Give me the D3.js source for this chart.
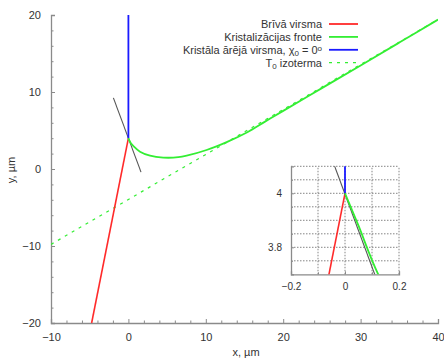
<!DOCTYPE html>
<html>
<head>
<meta charset="utf-8">
<script src="https://cdn.jsdelivr.net/npm/d3@7"></script>
<style>
  body { margin: 0; background: #fff; }
  text { font-family: "Liberation Sans", Arial, sans-serif; fill: #333; }
</style>
</head>
<body>
<svg width="444" height="359"></svg>
<script>
"use strict";

// free surface (red)
let redX = [0, -4.75];
let redY = [4, -20];
// crystallisation front (green)
let greenX = [0, 0.05, 0.123, 0.3, 0.63, 1.5, 2.8, 4.5, 6.45, 7.53, 10.1, 12.7, 15.3, 17.6, 20, 25, 30, 35, 40];
let greenY = [4, 3.88, 3.7, 3.38, 3.0, 2.25, 1.73, 1.48, 1.53, 1.73, 2.47, 3.5, 4.75, 6.12, 7.55, 10.5, 13.45, 16.42, 19.4];
// outer crystal surface (blue)
let blueX = [0, 0];
let blueY = [4, 20];
// T0 isotherm (dashed)
let isoX = [-10, 40];
let isoY = [-9.79, 19.41];
// tangent (gray)
let tanX = [-1.94, 1.63];
let tanY = [9.23, -0.4];

let xTicks = [-10, 0, 10, 20, 30, 40];
let yTicks = [-20, -10, 0, 10, 20];
let insetXTicks = [-0.2, 0, 0.2];
let insetYTicks = [3.8, 4];
let insetXGrid = [-0.1, 0, 0.1, 0.2];
let insetYGrid = [3.75, 3.8, 3.85, 3.9, 3.95, 4, 4.05, 4.1];

let legendLabels = ["Brīvā virsma", "Kristalizācijas fronte", "Kristāla ārējā virsma", "izoterma"];

let svg = d3.select('svg');

let x = d3.scaleLinear().domain([-10, 40]).range([51, 438]);
let y = d3.scaleLinear().domain([-20, 20]).range([323, 15]);

let toPts = (xs, ys) => xs.map((v, i) => [v, ys[i]]);

let series = [
  { pts: toPts(isoX, isoY), color: '#33ee33', width: 1.2, dash: '3,5' },
  { pts: toPts(redX, redY), color: '#ff2a2a', width: 1.6 },
  { pts: toPts(tanX, tanY), color: '#555', width: 1.1 },
  { pts: toPts(blueX, blueY), color: '#1a1aff', width: 1.8 },
  { pts: toPts(greenX, greenY), color: '#33ee33', width: 1.8, smooth: true }
];

let drawAxes = (g, xs, ys, opts) => {
  let bx = g.append('g')
    .attr('transform', 'translate(0,' + ys.range()[0] + ')')
    .call(d3.axisBottom(xs).tickValues(opts.xTicks).tickSize(-opts.tick).tickPadding(opts.pad).tickFormat(opts.fmt));
  let by = g.append('g')
    .attr('transform', 'translate(' + xs.range()[0] + ',0)')
    .call(d3.axisLeft(ys).tickValues(opts.yTicks).tickSize(-opts.tick).tickPadding(opts.pad).tickFormat(opts.fmt));
  [bx, by].forEach(a => {
    a.select('.domain').attr('stroke', '#8a8a8a').attr('stroke-width', 1.3);
    a.selectAll('.tick line').attr('stroke', '#8a8a8a');
    a.selectAll('.tick text').attr('fill', '#333').style('font-size', opts.fs + 'px');
  });
  if (opts.xMinor) {
    g.append('g')
      .attr('transform', 'translate(0,' + ys.range()[0] + ')')
      .call(d3.axisBottom(xs).tickValues(opts.xMinor).tickSize(-opts.minor).tickFormat(''))
      .call(a => a.select('.domain').remove())
      .selectAll('line').attr('stroke', '#8a8a8a');
  }
  if (opts.yMinor) {
    g.append('g')
      .attr('transform', 'translate(' + xs.range()[0] + ',0)')
      .call(d3.axisLeft(ys).tickValues(opts.yMinor).tickSize(-opts.minor).tickFormat(''))
      .call(a => a.select('.domain').remove())
      .selectAll('line').attr('stroke', '#8a8a8a');
  }
};

let drawLines = (g, xs, ys, clipId) => {
  let smooth = d3.line().x(d => xs(d[0])).y(d => ys(d[1])).curve(d3.curveCatmullRom.alpha(0.5));
  let straight = d3.line().x(d => xs(d[0])).y(d => ys(d[1]));
  let lg = g.append('g').attr('clip-path', 'url(#' + clipId + ')');
  series.forEach(s => {
    lg.append('path')
      .attr('d', s.smooth ? smooth(s.pts) : straight(s.pts))
      .attr('fill', 'none')
      .attr('stroke', s.color)
      .attr('stroke-width', s.width)
      .attr('stroke-dasharray', s.dash || null);
  });
};

let defs = svg.append('defs');
defs.append('clipPath').attr('id', 'mainClip').append('rect')
  .attr('x', x(-10)).attr('y', y(20)).attr('width', x(40) - x(-10)).attr('height', y(-20) - y(20));

// main plot
let main = svg.append('g');
drawAxes(main, x, y, {
  xTicks: xTicks, yTicks: yTicks, tick: 4, minor: 2.5, pad: 10, fs: 11,
  fmt: d3.format('d'),
  xMinor: d3.range(-10, 41, 2).filter(v => v % 10 !== 0),
  yMinor: d3.range(-20, 21, 2).filter(v => v % 10 !== 0)
});
drawLines(main, x, y, 'mainClip');

// axis titles
svg.append('text').attr('x', 246).attr('y', 356).attr('text-anchor', 'middle')
  .style('font-size', '11px').text('x, µm');
svg.append('text').attr('transform', 'translate(15,170) rotate(-90)').attr('text-anchor', 'middle')
  .style('font-size', '11px').text('y, µm');

// legend
let legColors = ['#ff2a2a', '#33ee33', '#1a1aff', '#33ee33'];
let leg = svg.append('g').style('font-size', '11px');
legendLabels.forEach((lab, i) => {
  let yy = 24 + i * 12.9;
  let t = leg.append('text').attr('x', 322).attr('y', yy + 4).attr('text-anchor', 'end');
  if (i === 2) {
    t.append('tspan').text(lab + ', χ');
    t.append('tspan').attr('baseline-shift', '-25%').style('font-size', '8px').text('0');
    t.append('tspan').text(' = 0');
    t.append('tspan').attr('baseline-shift', '40%').style('font-size', '8px').text('o');
  } else if (i === 3) {
    t.append('tspan').text('T');
    t.append('tspan').attr('baseline-shift', '-25%').style('font-size', '8px').text('0');
    t.append('tspan').text(' ' + lab);
  } else {
    t.text(lab);
  }
  leg.append('line')
    .attr('x1', 329).attr('x2', 358).attr('y1', yy).attr('y2', yy)
    .attr('stroke', legColors[i])
    .attr('stroke-width', i === 3 ? 1.2 : 1.8)
    .attr('stroke-dasharray', i === 3 ? '3,5' : null);
});

// inset
let ix = d3.scaleLinear().domain([-0.2, 0.2]).range([291, 399]);
let iy = d3.scaleLinear().domain([3.7, 4.1]).range([274.3, 166.3]);
defs.append('clipPath').attr('id', 'insetClip').append('rect')
  .attr('x', ix(-0.2)).attr('y', iy(4.1)).attr('width', ix(0.2) - ix(-0.2)).attr('height', iy(3.7) - iy(4.1));

let inset = svg.append('g');
inset.append('rect')
  .attr('x', ix(-0.2)).attr('y', iy(4.1)).attr('width', ix(0.2) - ix(-0.2)).attr('height', iy(3.7) - iy(4.1))
  .attr('fill', '#fff');
inset.selectAll('.gx').data(insetXGrid).enter().append('line')
  .attr('x1', d => ix(d)).attr('x2', d => ix(d))
  .attr('y1', iy(3.7)).attr('y2', iy(4.1))
  .attr('stroke', '#666').attr('stroke-width', 0.8).attr('stroke-dasharray', '1.5,1.5');
inset.selectAll('.gy').data(insetYGrid).enter().append('line')
  .attr('x1', ix(-0.2)).attr('x2', ix(0.2))
  .attr('y1', d => iy(d)).attr('y2', d => iy(d))
  .attr('stroke', '#666').attr('stroke-width', 0.8).attr('stroke-dasharray', '1.5,1.5');
drawAxes(inset, ix, iy, {
  xTicks: insetXTicks, yTicks: insetYTicks, tick: 3, minor: 2, pad: 9, fs: 10,
  fmt: d3.format('~g'),
  xMinor: [-0.1, 0.1],
  yMinor: [3.75, 3.85, 3.9, 3.95, 4.05]
});
drawLines(inset, ix, iy, 'insetClip');
</script>
</body>
</html>
